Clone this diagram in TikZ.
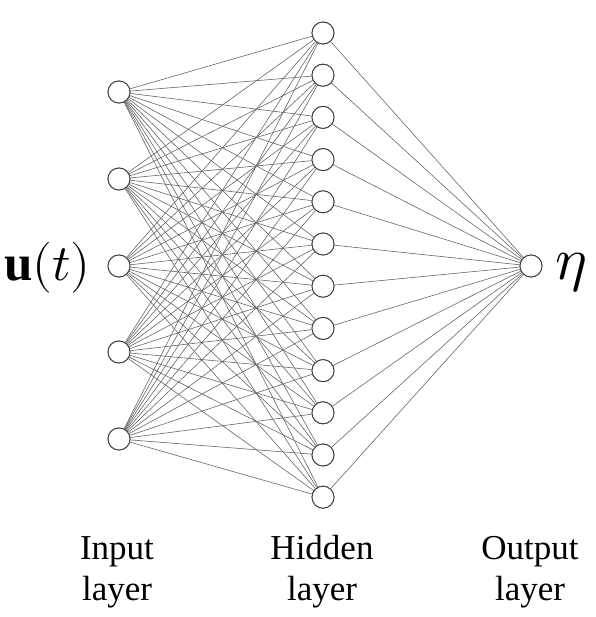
\documentclass[tikz,border=0pt]{standalone}
\usepackage{unicode-math}
\setmainfont{Liberation Serif}
\setmathfont{Latin Modern Math}
\begin{document}
\begin{tikzpicture}[x=1pt,y=-1pt,
  neuron/.style={circle,draw=black!75,line width=0.9pt,fill=white,minimum size=22pt,inner sep=0pt},
  conn/.style={draw=black!60,line width=0.6pt},
  lbl/.style={font=\fontsize{35}{41}\selectfont,anchor=base,inner sep=0pt}]
\useasboundingbox (0,0) rectangle (595,617);
\foreach \i/\y in {1/92,2/179,3/266,4/352,5/439}
  \node[neuron] (in\i) at (119,\y) {};
\foreach \j in {1,...,12}
  \node[neuron] (h\j) at (323,{33+(\j-1)*42.2}) {};
\node[neuron] (out) at (531,266) {};
\foreach \i in {1,...,5}
  \foreach \j in {1,...,12}
    \draw[conn] (in\i) -- (h\j);
\foreach \j in {1,...,12}
  \draw[conn] (h\j) -- (out);
\foreach \i/\y in {1/92,2/179,3/266,4/352,5/439}
  \node[neuron] at (119,\y) {};
\foreach \j in {1,...,12}
  \node[neuron] at (323,{33+(\j-1)*42.2}) {};
\node[neuron] at (531,266) {};
\node[anchor=base east,inner sep=0pt,font=\fontsize{51}{54}\selectfont] (ulab) at (91,280) {$\mathbf{u}(t)$};
\node[anchor=base west,inner sep=0pt,font=\fontsize{60}{64}\selectfont] (eta) at (555,279) {$\eta$};
\node[lbl] (inlab1) at (117,559) {Input};
\node[lbl] (inlab2) at (117,600) {layer};
\node[lbl] (hidlab1) at (322,559) {Hidden};
\node[lbl] (hidlab2) at (322,600) {layer};
\node[lbl] (outlab1) at (530,559) {Output};
\node[lbl] (outlab2) at (530,600) {layer};
\end{tikzpicture}
\end{document}
